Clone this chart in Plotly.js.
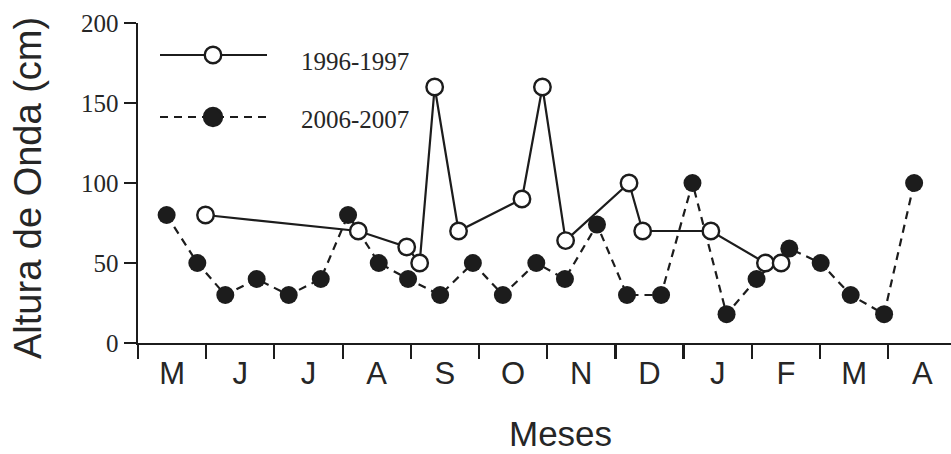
<!DOCTYPE html>
<html>
<head>
<meta charset="utf-8">
<script src="https://cdn.plot.ly/plotly-3.0.1.min.js"></script>
<style>
  html, body { margin: 0; padding: 0; background: #ffffff; }
  #chart { width: 951px; height: 454px; }
</style>
</head>
<body>
<div id="chart"></div>
<script>
// Month labels (May to April); positions are measured in months from the start of May
const monthLabels = ['M', 'J', 'J', 'A', 'S', 'O', 'N', 'D', 'J', 'F', 'M', 'A'];

// Wave height (cm), 1996-1997 campaign
const series1996Months = [0.99, 3.23, 3.94, 4.13, 4.35, 4.70, 5.63, 5.93, 6.27, 7.20, 7.40, 8.40, 9.20, 9.43];
const series1996Height = [80, 70, 60, 50, 160, 70, 90, 160, 64, 100, 70, 70, 50, 50];

// Wave height (cm), 2006-2007 campaign
const series2006Months = [0.42, 0.87, 1.28, 1.74, 2.21, 2.68, 3.08, 3.53, 3.96, 4.43, 4.91, 5.35, 5.84, 6.26,
                          6.73, 7.17, 7.67, 8.13, 8.63, 9.07, 9.55, 10.01, 10.45, 10.94, 11.38];
const series2006Height = [80, 50, 30, 40, 30, 40, 80, 50, 40, 30, 50, 30, 50, 40,
                          74, 30, 30, 100, 18, 40, 59, 50, 30, 18, 100];

const yTicks = [0, 50, 100, 150, 200];
const legendNames = ['1996-1997', '2006-2007'];

// ---- layout geometry (pixels) ----
const W = 951, H = 454;
const M = { l: 138, r: 0, t: 23, b: 111 };
const plotW = W - M.l - M.r, plotH = H - M.t - M.b;
const px = x => (x - M.l) / plotW;          // pixel x -> paper x
const py = y => (H - M.b - y) / plotH;      // pixel y -> paper y

const ink = '#1c1c1c';
const serif = 'Liberation Serif, Times New Roman, serif';
const sans = 'Liberation Sans, Arial, sans-serif';

const monthCenters = monthLabels.map((_, i) => i + 0.5);
const monthEdges = monthLabels.map((_, i) => i);

const traces = [
  {
    x: series2006Months, y: series2006Height,
    type: 'scatter', mode: 'lines+markers', name: legendNames[1],
    line: { color: ink, width: 2.2, dash: '8px,6px' },
    marker: { size: 18, color: ink, line: { width: 0 } },
    cliponaxis: false, hoverinfo: 'skip'
  },
  {
    x: series1996Months, y: series1996Height,
    type: 'scatter', mode: 'lines+markers', name: legendNames[0],
    line: { color: ink, width: 2.2 },
    marker: { size: 16.5, color: '#ffffff', line: { width: 2.4, color: ink } },
    cliponaxis: false, hoverinfo: 'skip'
  }
];

// Hand-placed legend: long sample lines with the marker in the middle
const legendRows = [
  { y: 55, dash: 'solid', fill: '#ffffff', d: 16.5 },
  { y: 117, dash: '8px,6px', fill: ink, d: 18 }
];
const shapes = [];
legendRows.forEach(r => {
  shapes.push({
    type: 'line', xref: 'paper', yref: 'paper',
    x0: px(160), x1: px(267), y0: py(r.y), y1: py(r.y),
    line: { color: ink, width: 2.2, dash: r.dash }
  });
  shapes.push({
    type: 'circle', xref: 'paper', yref: 'paper',
    xsizemode: 'pixel', ysizemode: 'pixel',
    xanchor: px(213), yanchor: py(r.y),
    x0: -r.d / 2, x1: r.d / 2, y0: -r.d / 2, y1: r.d / 2,
    fillcolor: r.fill, line: { color: ink, width: 2.4 }
  });
});

const annotations = [
  { text: legendNames[0], x: px(299), y: py(61), xanchor: 'left', yanchor: 'middle' },
  { text: legendNames[1], x: px(299), y: py(119), xanchor: 'left', yanchor: 'middle' }
].map(a => Object.assign(a, {
  xref: 'paper', yref: 'paper', showarrow: false,
  font: { family: serif, size: 25, color: '#262626' }
}));

annotations.push({
  text: 'Meses', xref: 'paper', yref: 'paper', x: px(560), y: py(433),
  xanchor: 'center', yanchor: 'middle', showarrow: false,
  font: { family: sans, size: 35, color: '#262626' }
});
annotations.push({
  text: 'Altura de Onda (cm)', xref: 'paper', yref: 'paper', x: px(28), y: py(188),
  xanchor: 'center', yanchor: 'middle', textangle: -90, showarrow: false,
  font: { family: sans, size: 38, color: '#262626' }
});

const layout = {
  width: W, height: H,
  margin: M,
  paper_bgcolor: '#ffffff', plot_bgcolor: '#ffffff',
  showlegend: false,
  xaxis: {
    range: [0, plotW / 68.2],
    tickmode: 'array', tickvals: monthCenters, ticktext: monthLabels,
    ticks: 'outside', ticklen: 1, tickcolor: 'rgba(0,0,0,0)',
    tickfont: { family: sans, size: 31, color: '#262626' },
    minor: { tickmode: 'array', tickvals: monthEdges, ticks: 'outside', ticklen: 14, tickwidth: 2.2, tickcolor: ink, showgrid: false },
    showline: true, linecolor: ink, linewidth: 2.4,
    showgrid: false, zeroline: false, fixedrange: true
  },
  yaxis: {
    range: [0, 200],
    tickmode: 'array', tickvals: yTicks, ticktext: yTicks.map(String),
    ticks: 'outside', ticklen: 12, tickwidth: 2.2, tickcolor: ink,
    tickfont: { family: serif, size: 25, color: '#262626' },
    showline: true, linecolor: ink, linewidth: 2.4,
    showgrid: false, zeroline: false, fixedrange: true
  },
  shapes: shapes,
  annotations: annotations
};

Plotly.newPlot('chart', traces, layout, { staticPlot: true, displayModeBar: false });
</script>
</body>
</html>
